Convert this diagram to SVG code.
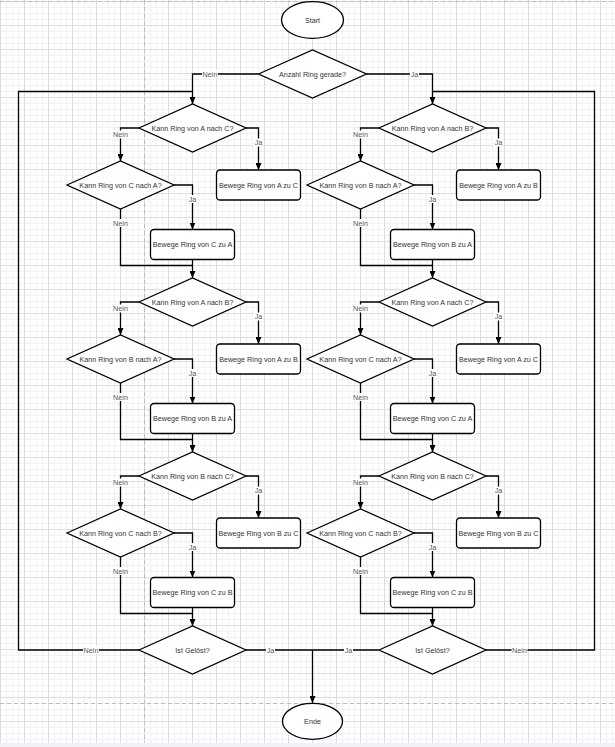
<svg xmlns="http://www.w3.org/2000/svg" width="615" height="747" viewBox="0 0 615 747">
<style>
.n{fill:#fff;stroke:#000;stroke-width:1.3}
.t{font-family:"Liberation Sans",Arial,sans-serif;font-size:7.2px;fill:#333;text-anchor:middle;dominant-baseline:central}
.l{font-family:"Liberation Sans",Arial,sans-serif;font-size:7.2px;fill:#555;text-anchor:middle;dominant-baseline:central}
.c{fill:none;stroke:#000;stroke-width:1.3}
.a{marker-end:url(#arr)}
.bg{fill:#fff}
</style>
<defs>
<pattern id="grid" width="24" height="24" patternUnits="userSpaceOnUse" x="0" y="1">
<path d="M6.5 0V24M12.5 0V24M18.5 0V24M0 6.5H24M0 12.5H24M0 18.5H24" stroke="#f1f1f1" stroke-width="1" fill="none"/>
<path d="M0.5 0V24M0 0.5H24" stroke="#dcdcdc" stroke-width="1" fill="none"/>
</pattern>
<marker id="arr" markerWidth="7" markerHeight="6" refX="7" refY="3" orient="auto" markerUnits="userSpaceOnUse">
<path d="M0,0L7,3L0,6z" fill="#000"/>
</marker>
</defs>
<rect width="615" height="747" fill="#fff"/>
<rect width="615" height="743" fill="url(#grid)"/>
<rect y="743" width="615" height="4" fill="#eef1f5"/>
<g fill="none" stroke="#bdbdbd" stroke-width="1" stroke-dasharray="4,3">
<path d="M0 1.5H615M0 703.5H615M144.5 0V743"/>
</g>

<g id="connectors">
<path class="c a" d="M258.5,74H192.5V104"/>
<path class="c a" d="M366.5,74H432.5V104"/>
<path class="c" d="M139,650H18.5V91.5H192.5"/>
<path class="c" d="M486,650H594.5V91.5H432.5"/>
<path class="c" d="M246,650H378.5"/>
<path class="c a" d="M312.5,650V703"/>
<!-- left column -->
<path class="c a" d="M139,128H120.5V161"/>
<path class="c a" d="M246,128H258.5V170"/>
<path class="c a" d="M174,185H192.5V229.5"/>
<path class="c" d="M120.5,209V265.5H192.5"/>
<path class="c a" d="M192.5,259.5V278"/>
<path class="c a" d="M139,302H120.5V335"/>
<path class="c a" d="M246,302H258.5V344"/>
<path class="c a" d="M174,359H192.5V403.5"/>
<path class="c" d="M120.5,383V439.5H192.5"/>
<path class="c a" d="M192.5,433.5V452"/>
<path class="c a" d="M139,476H120.5V509"/>
<path class="c a" d="M246,476H258.5V518"/>
<path class="c a" d="M174,533H192.5V577.5"/>
<path class="c" d="M120.5,557V613.5H192.5"/>
<path class="c a" d="M192.5,607.5V626"/>
<!-- right column -->
<path class="c a" d="M379,128H360.5V161"/>
<path class="c a" d="M486,128H498.5V170"/>
<path class="c a" d="M414,185H432.5V229.5"/>
<path class="c" d="M360.5,209V265.5H432.5"/>
<path class="c a" d="M432.5,259.5V278"/>
<path class="c a" d="M379,302H360.5V335"/>
<path class="c a" d="M486,302H498.5V344"/>
<path class="c a" d="M414,359H432.5V403.5"/>
<path class="c" d="M360.5,383V439.5H432.5"/>
<path class="c a" d="M432.5,433.5V452"/>
<path class="c a" d="M379,476H360.5V509"/>
<path class="c a" d="M486,476H498.5V518"/>
<path class="c a" d="M414,533H432.5V577.5"/>
<path class="c" d="M360.5,557V613.5H432.5"/>
<path class="c a" d="M432.5,607.5V626"/>
<!-- labels -->
<g>
<rect class="bg" x="202" y="70" width="16" height="8"/><text class="l" x="210" y="74">Nein</text>
<rect class="bg" x="410" y="70" width="9" height="8"/><text class="l" x="414.5" y="74">Ja</text>
<rect class="bg" x="83" y="646" width="16" height="8"/><text class="l" x="91" y="650">Nein</text>
<rect class="bg" x="511.5" y="646" width="16" height="8"/><text class="l" x="519.5" y="650">Nein</text>
<rect class="bg" x="266" y="646" width="9" height="8"/><text class="l" x="270.5" y="650">Ja</text>
<rect class="bg" x="344" y="646" width="9" height="8"/><text class="l" x="348.5" y="650">Ja</text>

<rect class="bg" x="112.5" y="130.5" width="16" height="8"/><text class="l" x="120.5" y="134.5">Nein</text>
<rect class="bg" x="254" y="138.5" width="9" height="8"/><text class="l" x="258.5" y="142.5">Ja</text>
<rect class="bg" x="188" y="195" width="9" height="8"/><text class="l" x="192.5" y="199">Ja</text>
<rect class="bg" x="112.5" y="219" width="16" height="8"/><text class="l" x="120.5" y="223">Nein</text>

<rect class="bg" x="112.5" y="304.5" width="16" height="8"/><text class="l" x="120.5" y="308.5">Nein</text>
<rect class="bg" x="254" y="312.5" width="9" height="8"/><text class="l" x="258.5" y="316.5">Ja</text>
<rect class="bg" x="188" y="369" width="9" height="8"/><text class="l" x="192.5" y="373">Ja</text>
<rect class="bg" x="112.5" y="393" width="16" height="8"/><text class="l" x="120.5" y="397">Nein</text>

<rect class="bg" x="112.5" y="478.5" width="16" height="8"/><text class="l" x="120.5" y="482.5">Nein</text>
<rect class="bg" x="254" y="486.5" width="9" height="8"/><text class="l" x="258.5" y="490.5">Ja</text>
<rect class="bg" x="188" y="543" width="9" height="8"/><text class="l" x="192.5" y="547">Ja</text>
<rect class="bg" x="112.5" y="567" width="16" height="8"/><text class="l" x="120.5" y="571">Nein</text>

<rect class="bg" x="352.5" y="130.5" width="16" height="8"/><text class="l" x="360.5" y="134.5">Nein</text>
<rect class="bg" x="494" y="138.5" width="9" height="8"/><text class="l" x="498.5" y="142.5">Ja</text>
<rect class="bg" x="428" y="195" width="9" height="8"/><text class="l" x="432.5" y="199">Ja</text>
<rect class="bg" x="352.5" y="219" width="16" height="8"/><text class="l" x="360.5" y="223">Nein</text>

<rect class="bg" x="352.5" y="304.5" width="16" height="8"/><text class="l" x="360.5" y="308.5">Nein</text>
<rect class="bg" x="494" y="312.5" width="9" height="8"/><text class="l" x="498.5" y="316.5">Ja</text>
<rect class="bg" x="428" y="369" width="9" height="8"/><text class="l" x="432.5" y="373">Ja</text>
<rect class="bg" x="352.5" y="393" width="16" height="8"/><text class="l" x="360.5" y="397">Nein</text>

<rect class="bg" x="352.5" y="478.5" width="16" height="8"/><text class="l" x="360.5" y="482.5">Nein</text>
<rect class="bg" x="494" y="486.5" width="9" height="8"/><text class="l" x="498.5" y="490.5">Ja</text>
<rect class="bg" x="428" y="543" width="9" height="8"/><text class="l" x="432.5" y="547">Ja</text>
<rect class="bg" x="352.5" y="567" width="16" height="8"/><text class="l" x="360.5" y="571">Nein</text>
</g>
</g>

<g id="start"><ellipse class="n" cx="312.5" cy="20" rx="31" ry="18.3"/><text class="t" x="312.5" y="20">Start</text></g>
<g id="anzahl"><polygon class="n" points="258.5,74 312.5,50 366.5,74 312.5,98"/><text class="t" x="312.5" y="74">Anzahl Ring gerade?</text></g>

<g id="l1q1"><polygon class="n" points="139,128 192.5,104 246,128 192.5,152"/><text class="t" x="192.5" y="128">Kann Ring von A nach C?</text></g>
<g id="l1b1"><rect class="n" x="216.5" y="170" width="84" height="30" rx="3.6"/><text class="t" x="258.5" y="185">Bewege Ring von A zu C</text></g>
<g id="l1q2"><polygon class="n" points="67,185 120.5,161 174,185 120.5,209"/><text class="t" x="120.5" y="185">Kann Ring von C nach A?</text></g>
<g id="l1b2"><rect class="n" x="150.5" y="229.5" width="84" height="30" rx="3.6"/><text class="t" x="192.5" y="244.5">Bewege Ring von C zu A</text></g>

<g id="l2q1"><polygon class="n" points="139,302 192.5,278 246,302 192.5,326"/><text class="t" x="192.5" y="302">Kann Ring von A nach B?</text></g>
<g id="l2b1"><rect class="n" x="216.5" y="344" width="84" height="30" rx="3.6"/><text class="t" x="258.5" y="359">Bewege Ring von A zu B</text></g>
<g id="l2q2"><polygon class="n" points="67,359 120.5,335 174,359 120.5,383"/><text class="t" x="120.5" y="359">Kann Ring von B nach A?</text></g>
<g id="l2b2"><rect class="n" x="150.5" y="403.5" width="84" height="30" rx="3.6"/><text class="t" x="192.5" y="418.5">Bewege Ring von B zu A</text></g>

<g id="l3q1"><polygon class="n" points="139,476 192.5,452 246,476 192.5,500"/><text class="t" x="192.5" y="476">Kann Ring von B nach C?</text></g>
<g id="l3b1"><rect class="n" x="216.5" y="518" width="84" height="30" rx="3.6"/><text class="t" x="258.5" y="533">Bewege Ring von B zu C</text></g>
<g id="l3q2"><polygon class="n" points="67,533 120.5,509 174,533 120.5,557"/><text class="t" x="120.5" y="533">Kann Ring von C nach B?</text></g>
<g id="l3b2"><rect class="n" x="150.5" y="577.5" width="84" height="30" rx="3.6"/><text class="t" x="192.5" y="592.5">Bewege Ring von C zu B</text></g>

<g id="r1q1"><polygon class="n" points="379,128 432.5,104 486,128 432.5,152"/><text class="t" x="432.5" y="128">Kann Ring von A nach B?</text></g>
<g id="r1b1"><rect class="n" x="456.5" y="170" width="84" height="30" rx="3.6"/><text class="t" x="498.5" y="185">Bewege Ring von A zu B</text></g>
<g id="r1q2"><polygon class="n" points="307,185 360.5,161 414,185 360.5,209"/><text class="t" x="360.5" y="185">Kann Ring von B nach A?</text></g>
<g id="r1b2"><rect class="n" x="390.5" y="229.5" width="84" height="30" rx="3.6"/><text class="t" x="432.5" y="244.5">Bewege Ring von B zu A</text></g>

<g id="r2q1"><polygon class="n" points="379,302 432.5,278 486,302 432.5,326"/><text class="t" x="432.5" y="302">Kann Ring von A nach C?</text></g>
<g id="r2b1"><rect class="n" x="456.5" y="344" width="84" height="30" rx="3.6"/><text class="t" x="498.5" y="359">Bewege Ring von A zu C</text></g>
<g id="r2q2"><polygon class="n" points="307,359 360.5,335 414,359 360.5,383"/><text class="t" x="360.5" y="359">Kann Ring von C nach A?</text></g>
<g id="r2b2"><rect class="n" x="390.5" y="403.5" width="84" height="30" rx="3.6"/><text class="t" x="432.5" y="418.5">Bewege Ring von C zu A</text></g>

<g id="r3q1"><polygon class="n" points="379,476 432.5,452 486,476 432.5,500"/><text class="t" x="432.5" y="476">Kann Ring von B nach C?</text></g>
<g id="r3b1"><rect class="n" x="456.5" y="518" width="84" height="30" rx="3.6"/><text class="t" x="498.5" y="533">Bewege Ring von B zu C</text></g>
<g id="r3q2"><polygon class="n" points="307,533 360.5,509 414,533 360.5,557"/><text class="t" x="360.5" y="533">Kann Ring von C nach B?</text></g>
<g id="r3b2"><rect class="n" x="390.5" y="577.5" width="84" height="30" rx="3.6"/><text class="t" x="432.5" y="592.5">Bewege Ring von C zu B</text></g>

<g id="geloest-l"><polygon class="n" points="139,650 192.5,626 246,650 192.5,674"/><text class="t" x="192.5" y="650">Ist Gelöst?</text></g>
<g id="geloest-r"><polygon class="n" points="379,650 432.5,626 486,650 432.5,674"/><text class="t" x="432.5" y="650">Ist Gelöst?</text></g>
<g id="ende"><ellipse class="n" cx="312.5" cy="721.3" rx="30" ry="18"/><text class="t" x="312.5" y="721.3">Ende</text></g>
</svg>
